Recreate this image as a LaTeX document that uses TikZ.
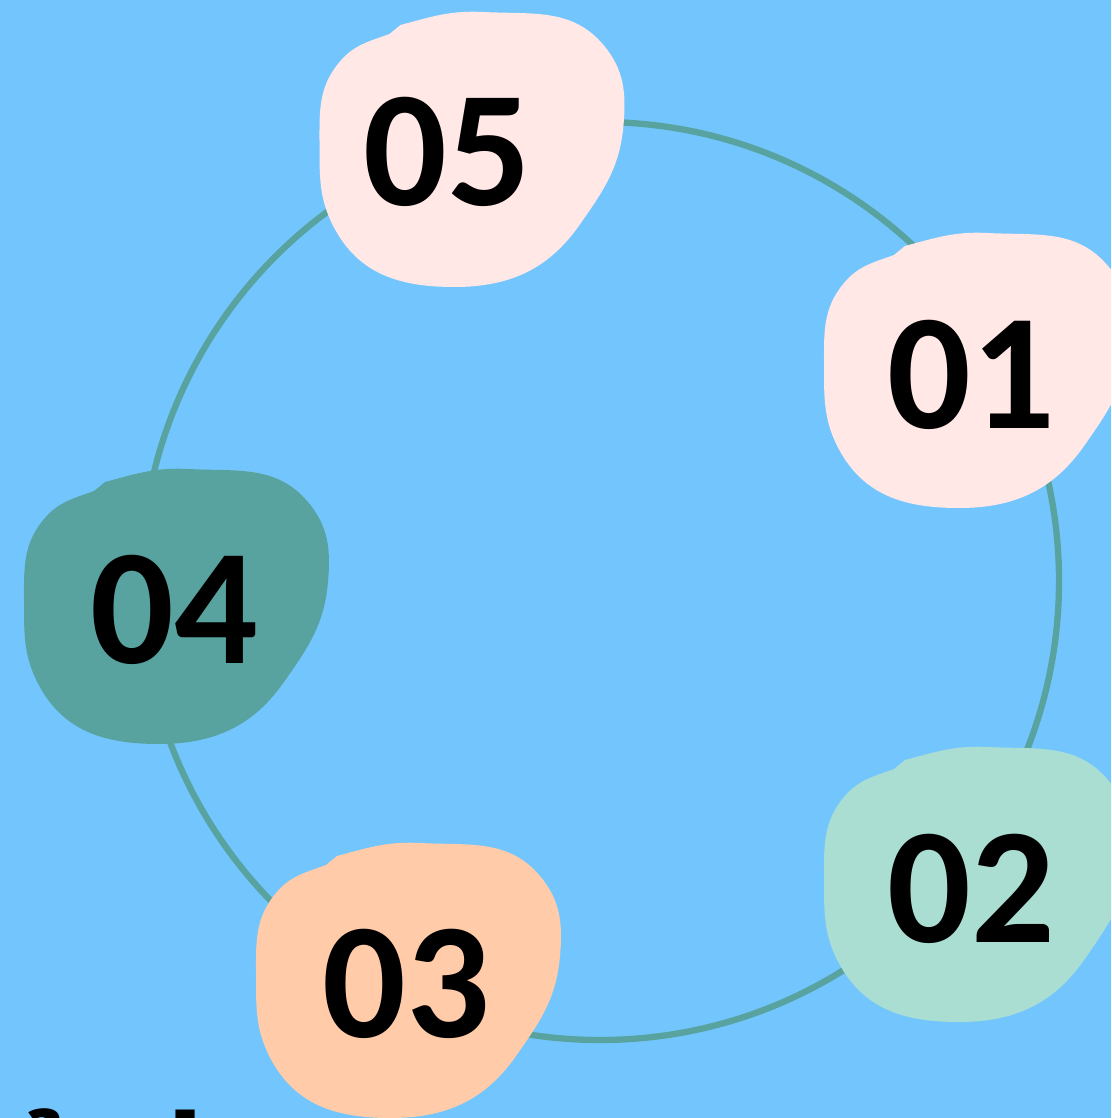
\documentclass[tikz,border=0pt]{standalone}
\usepackage{fontspec}
\setmainfont{Carlito}[Numbers=Lining]
\definecolor{bgblue}{HTML}{73C6FD}
\definecolor{ringteal}{HTML}{58A3A0}
\definecolor{blobpink}{HTML}{FFE8E6}
\definecolor{blobteal}{HTML}{58A3A0}
\definecolor{blobmint}{HTML}{AADED2}
\definecolor{blobpeach}{HTML}{FFCBA8}
\begin{document}
\begin{tikzpicture}
        \tikzstyle{ring}=[circle,draw=ringteal,line width=1.8pt,minimum size=9.18cm,inner sep=0pt]
        \tikzstyle{num}=[font=\fontsize{47}{47}\selectfont\bfseries,text=black,inner sep=0pt]
        \tikzstyle{caption}=[font=\fontsize{44}{44}\selectfont\bfseries,text=black,inner sep=0pt,anchor=base west]
        \useasboundingbox (0,0) rectangle (11.11,-11.18);
        \clip (0,0) rectangle (11.11,-11.18);
        \fill[bgblue] (0,0) rectangle (11.11,-11.18);

        \node [ring] (ring) at (6.00,-5.81) {};

        \foreach \bx/\by/\col/\tx/\ty/\lab in {4.705/-1.50/blobpink/4.47/-1.52/05,
                                          9.75/-3.71/blobpink/9.71/-3.75/01,
                                          1.75/-6.07/blobteal/1.74/-6.10/04,
                                          9.75/-8.85/blobmint/9.71/-8.89/02,
                                          4.07/-9.81/blobpeach/4.06/-9.84/03}
        {
          \fill[\col,shift={(\bx,\by)}] (0.13,1.38) to[out=-3,in=130] (1.33,1.05)
            to[out=-50,in=85] (1.53,0.25) to[out=-95,in=55] (1.09,-0.75)
            to[out=-125,in=0] (-0.16,-1.37) to[out=180,in=-60] (-1.34,-0.82)
            to[out=120,in=-90] (-1.51,0.05) to[out=90,in=-130] (-1.31,0.88)
            to[out=50,in=200] (-0.81,1.16) -- (-0.70,1.25) to[out=15,in=177] cycle;
          \node [num] (n\lab) at (\tx,\ty) {\lab};
        }

        \node [caption] (cap) at (0.06,-12.18) {ảnh};
\end{tikzpicture}
\end{document}
